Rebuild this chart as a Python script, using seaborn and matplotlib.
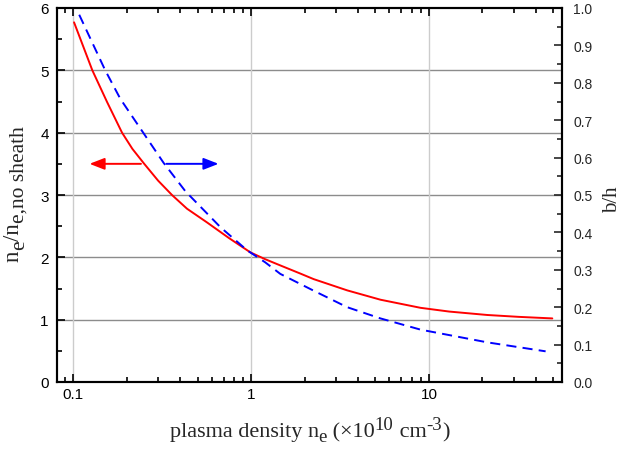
import numpy as np
import pandas as pd
import matplotlib
matplotlib.use('Agg')
import matplotlib.pyplot as plt
import seaborn as sns
from matplotlib.transforms import IdentityTransform
from matplotlib.ticker import MultipleLocator, LogLocator, NullFormatter, FixedLocator, FormatStrFormatter

# ratio n_e / n_e,no sheath (left axis)
red_x = [0.101, 0.128, 0.155, 0.188, 0.215, 0.249, 0.3, 0.359, 0.436, 0.565, 0.75, 0.99, 1.2, 1.46, 1.89, 2.25,
         3.47, 5.34, 8.97, 13.0, 21.3, 32.0, 49.4]
red_y = [5.77, 5.0, 4.49, 4.0, 3.74, 3.51, 3.23, 3.0, 2.78, 2.56, 2.31, 2.08, 1.97, 1.87, 1.74, 1.65,
         1.47, 1.32, 1.19, 1.13, 1.075, 1.045, 1.02]

# b/h (right axis)
blue_x = [0.108, 0.151, 0.184, 0.247, 0.322, 0.427, 0.672, 0.95, 1.2, 1.46, 2.25, 3.47, 5.34, 8.97, 21.3, 45.3]
blue_y = [0.982, 0.834, 0.757, 0.667, 0.586, 0.51, 0.414, 0.352, 0.32, 0.289, 0.244, 0.2, 0.17, 0.14, 0.106, 0.082]

x_ticks = [0.1, 1, 10]
x_ticklabels = ['0.1', '1', '10']

sns.set_style('ticks')
plt.rcParams['font.family'] = ['Liberation Sans', 'DejaVu Sans']
serif = ['Liberation Serif', 'DejaVu Serif']

red_df = pd.DataFrame({'x': red_x, 'y': red_y})
blue_df = pd.DataFrame({'x': blue_x, 'y': blue_y})

W, H = 621, 456
fig = plt.figure(figsize=(W / 100, H / 100), dpi=100)
ax = fig.add_axes([57 / W, 73 / H, 505 / W, 374 / H])
ax2 = ax.twinx()

sns.lineplot(data=red_df, x='x', y='y', ax=ax, color='red', lw=1.4)
sns.lineplot(data=blue_df, x='x', y='y', ax=ax2, color='blue', lw=1.4,
             linestyle=(0, (5.2, 3.2)))
ax.set_xlabel('')
ax.set_ylabel('')
ax2.set_ylabel('')

ax.set_xscale('log')
ax.set_xlim(0.081, 56)
ax.set_ylim(0, 6)
ax2.set_ylim(0, 1.0)

# grid
for v in [1, 2, 3, 4, 5]:
    ax.axhline(v, color='#8c8c8c', lw=1.0, zorder=0)
for v in x_ticks:
    ax.axvline(v, color='#cccccc', lw=1.0, zorder=0)

# arrows
ax.annotate('', xy=(0.119, 3.5), xytext=(0.249, 3.5),
            arrowprops=dict(arrowstyle='-|>,head_length=0.9,head_width=0.35', color='red', lw=1.4))
ax.annotate('', xy=(0.68, 3.5), xytext=(0.322, 3.5),
            arrowprops=dict(arrowstyle='-|>,head_length=0.9,head_width=0.35', color='blue', lw=1.4))

# ticks
ax.xaxis.set_major_locator(FixedLocator(x_ticks))
ax.set_xticklabels(x_ticklabels)
ax.xaxis.set_minor_locator(LogLocator(base=10, subs=np.arange(2, 10)))
ax.xaxis.set_minor_formatter(NullFormatter())
ax.yaxis.set_major_locator(MultipleLocator(1))
ax.yaxis.set_minor_locator(MultipleLocator(0.5))
ax2.yaxis.set_major_locator(MultipleLocator(0.1))
ax2.yaxis.set_minor_locator(MultipleLocator(0.05))
ax2.yaxis.set_major_formatter(FormatStrFormatter('%.1f'))

ax.tick_params(which='both', direction='in', top=True, labelsize=11, width=1.2, colors='black')
ax.tick_params(which='major', length=6)
ax.tick_params(which='minor', length=3.5)
ax.tick_params(axis='y', pad=6)
ax2.tick_params(which='both', direction='in', labelsize=10, width=1.2, pad=8)
ax2.tick_params(which='major', length=6)
ax2.tick_params(which='minor', length=3.5)

for a in (ax, ax2):
    for s in a.spines.values():
        s.set_linewidth(1.5)
        s.set_color('black')

# axis labels built from pieces so the sub/superscripts stay large like the original
renderer = fig.canvas.get_renderer()


def compose(pieces, x0, y0, vertical=False):
    texts = []
    pos = y0 if vertical else x0
    for s, size, shift in pieces:
        if vertical:
            t = fig.text(x0 + shift, pos, s, rotation=90, rotation_mode='anchor',
                         ha='left', va='baseline', fontsize=size, family=serif,
                         transform=IdentityTransform())
            pos += t.get_window_extent(renderer).height
        else:
            t = fig.text(pos, y0 + shift, s, ha='left', va='baseline', fontsize=size,
                         family=serif, transform=IdentityTransform())
            pos += t.get_window_extent(renderer).width
        texts.append(t)
    return texts, pos


def center(texts, start, end, mid, vertical=False):
    off = mid - (start + end) / 2
    for t in texts:
        x, y = t.get_position()
        t.set_position((x, y + off) if vertical else (x + off, y))


main, small = 16, 13.5
xl_pieces = [('plasma density n', main, 0), ('e', small, -5), (' (\u00d710', main, 0),
             ('10', small, 7), (' cm', main, 0), ('-3', small, 7), (')', main, 0)]
texts, end = compose(xl_pieces, 0, H - 437)
center(texts, 0, end, (57 + 562) / 2)

yl_pieces = [('n', 16.5, 0), ('e', 15.5, 5), ('/n', 16.5, 0), ('e,no sheath', 15.5, 5)]
texts, end = compose(yl_pieces, 19, 0, vertical=True)
center(texts, 0, end, (73 + 447) / 2 + 2, vertical=True)

texts, end = compose([('b/h', 15, 0)], 617, 0, vertical=True)
center(texts, 0, end, H - 200, vertical=True)

fig.savefig('out.png', dpi=100)
